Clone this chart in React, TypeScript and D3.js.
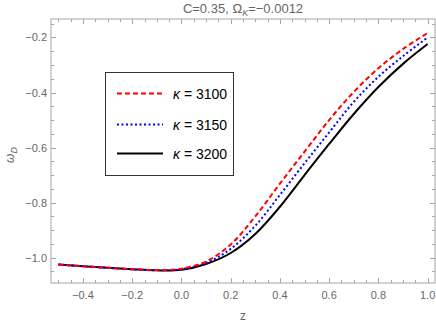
import React, { useEffect, useRef } from 'react';
import * as d3 from 'd3';

// redshift grid
const zValues = [-0.5, -0.4, -0.3, -0.2, -0.1, 0.0, 0.1, 0.2, 0.3, 0.4, 0.5, 0.6, 0.7, 0.8, 0.9, 1.0];

// omega_D for each kappa
const omega3100 = [-1.025, -1.031, -1.037, -1.042, -1.045, -1.040, -1.014, -0.952, -0.850, -0.731, -0.615, -0.500, -0.398, -0.312, -0.242, -0.184];
const omega3150 = [-1.025, -1.031, -1.037, -1.042, -1.046, -1.042, -1.019, -0.968, -0.884, -0.772, -0.657, -0.545, -0.434, -0.343, -0.268, -0.200];
const omega3200 = [-1.025, -1.031, -1.037, -1.042, -1.046, -1.044, -1.023, -0.983, -0.914, -0.815, -0.700, -0.587, -0.478, -0.380, -0.296, -0.224];

const seriesLabels = ['3100', '3150', '3200'];

const xTicks = [-0.4, -0.2, 0.0, 0.2, 0.4, 0.6, 0.8, 1.0];
const yTicks = [-1.0, -0.8, -0.6, -0.4, -0.2];

const App = () => {
    const svgRef = useRef(null);

    useEffect(() => {
        const svg = d3.select(svgRef.current);
        svg.selectAll('*').remove();

        const left = 51, right = 435, top = 19, bottom = 283;
        const x = d3.scaleLinear().domain([-0.53, 1.03]).range([left, right]);
        const y = d3.scaleLinear().domain([-1.092, -0.133]).range([bottom, top]);

        const axisColor = '#a6a6a6';
        const textColor = '#666666';
        const font = '"Liberation Sans", Arial, sans-serif';

        // frame
        svg.append('rect')
            .attr('x', left).attr('y', top)
            .attr('width', right - left).attr('height', bottom - top)
            .attr('fill', 'none').attr('stroke', axisColor).attr('stroke-width', 1);

        // ticks, inward on all four sides
        const minorX = d3.range(-0.5, 1.0001, 0.05).map(v => +v.toFixed(2));
        const minorY = d3.range(-1.05, -0.1499, 0.05).map(v => +v.toFixed(2));
        const isMajor = (v, list) => list.some(t => Math.abs(t - v) < 1e-6);

        const tg = svg.append('g').attr('stroke', axisColor).attr('stroke-width', 1);
        minorX.forEach(v => {
            const len = isMajor(v, xTicks) ? 5 : 3;
            const px = Math.round(x(v)) + 0.5;
            tg.append('line').attr('x1', px).attr('x2', px).attr('y1', bottom).attr('y2', bottom - len);
            tg.append('line').attr('x1', px).attr('x2', px).attr('y1', top).attr('y2', top + len);
        });
        minorY.forEach(v => {
            const len = isMajor(v, yTicks) ? 5 : 3;
            const py = Math.round(y(v)) + 0.5;
            tg.append('line').attr('x1', left).attr('x2', left + len).attr('y1', py).attr('y2', py);
            tg.append('line').attr('x1', right).attr('x2', right - len).attr('y1', py).attr('y2', py);
        });

        const fmt = v => (v < 0 ? '\u2212' : '') + Math.abs(v).toFixed(1);

        svg.append('g').selectAll('text')
            .data(xTicks).enter().append('text')
            .attr('x', d => x(d)).attr('y', bottom + 16)
            .attr('text-anchor', 'middle')
            .style('font-family', font).style('font-size', '11px').attr('fill', textColor)
            .text(fmt);

        svg.append('g').selectAll('text')
            .data(yTicks).enter().append('text')
            .attr('x', left - 4).attr('y', d => y(d) + 4)
            .attr('text-anchor', 'end')
            .style('font-family', font).style('font-size', '11px').attr('fill', textColor)
            .text(fmt);

        // axis labels
        svg.append('text')
            .attr('x', 243).attr('y', 320).attr('text-anchor', 'middle')
            .style('font-family', font).style('font-size', '12px').attr('fill', textColor)
            .text('z');

        const yl = svg.append('text')
            .attr('transform', 'translate(14,155) rotate(-90)')
            .attr('text-anchor', 'middle')
            .style('font-family', font).style('font-size', '12px').attr('fill', textColor);
        yl.append('tspan').style('font-style', 'italic').text('\u03c9');
        yl.append('tspan').attr('dy', 3).style('font-size', '9px').style('font-style', 'italic').text('D');

        // title, centred over the plot frame
        const title = svg.append('text')
            .attr('x', (left + right) / 2).attr('y', 13).attr('text-anchor', 'middle')
            .style('font-family', font).style('font-size', '13px').attr('fill', textColor);
        title.append('tspan').text('C=0.35, \u03a9');
        title.append('tspan').attr('dy', 3).style('font-size', '9px').style('font-style', 'italic').text('K');
        title.append('tspan').attr('dy', -3).text('=\u22120.0012');

        // curves
        const line = d3.line()
            .x((d, i) => x(zValues[i]))
            .y(d => y(d))
            .curve(d3.curveCatmullRom);

        const styles = [
            { data: omega3100, color: '#ff0000', dash: '5,3' },
            { data: omega3150, color: '#0000ff', dash: '2,2.5' },
            { data: omega3200, color: '#000000', dash: null },
        ];

        const plot = svg.append('g');
        styles.slice().reverse().forEach(s => {
            plot.append('path')
                .attr('d', line(s.data))
                .attr('fill', 'none')
                .attr('stroke', s.color)
                .attr('stroke-width', 2)
                .attr('stroke-dasharray', s.dash);
        });

        // legend
        const lg = svg.append('g');
        lg.append('rect')
            .attr('x', 105.5).attr('y', 72.5).attr('width', 128).attr('height', 103)
            .attr('fill', 'white').attr('stroke', '#333').attr('stroke-width', 1);
        const rowY = [93.5, 124.5, 153.5];
        styles.forEach((s, i) => {
            lg.append('line')
                .attr('x1', 117).attr('x2', 163).attr('y1', rowY[i]).attr('y2', rowY[i])
                .attr('stroke', s.color).attr('stroke-width', 2).attr('stroke-dasharray', s.dash);
            const t = lg.append('text')
                .attr('x', 173).attr('y', rowY[i] + 5)
                .style('font-family', font).style('font-size', '14px').attr('fill', '#000');
            t.append('tspan').style('font-style', 'italic').text('\u03ba');
            t.append('tspan').text(' = ' + seriesLabels[i]);
        });
    }, []);

    return (
        <svg
            ref={svgRef}
            width={436}
            height={327}
            style={{ position: 'absolute', left: 0, top: 0, background: 'white' }}
        />
    );
};

export default App;
